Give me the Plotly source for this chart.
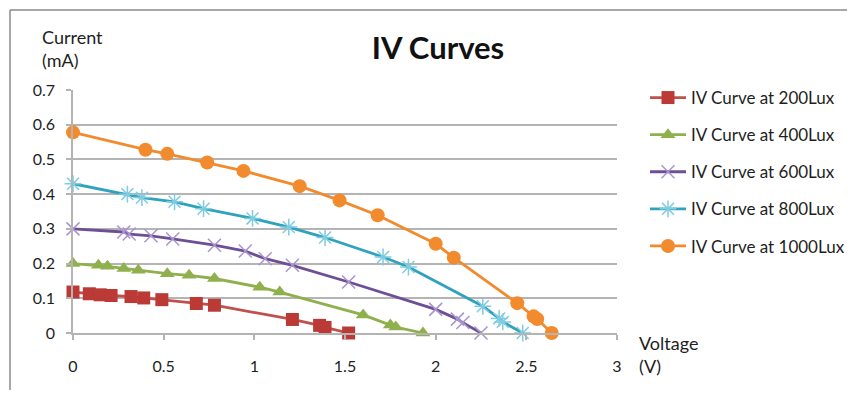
import plotly.graph_objects as go

# IV curve data (voltage in V, current in mA)
v_200 = [0, 0.09, 0.15, 0.21, 0.32, 0.39, 0.49, 0.68, 0.78, 1.21, 1.36, 1.39, 1.52]
i_200 = [0.118, 0.113, 0.110, 0.108, 0.105, 0.101, 0.096, 0.085, 0.080, 0.039, 0.022, 0.016, 0]

v_400 = [0, 0.14, 0.19, 0.28, 0.36, 0.52, 0.64, 0.78, 1.03, 1.14, 1.60, 1.75, 1.78, 1.93]
i_400 = [0.200, 0.195, 0.192, 0.186, 0.181, 0.171, 0.166, 0.157, 0.132, 0.118, 0.052, 0.023, 0.017, 0]

v_600 = [0, 0.28, 0.31, 0.43, 0.55, 0.78, 0.95, 1.06, 1.21, 1.52, 2.0, 2.12, 2.15, 2.25]
i_600 = [0.300, 0.291, 0.285, 0.280, 0.271, 0.253, 0.236, 0.214, 0.195, 0.147, 0.068, 0.040, 0.030, 0]

v_800 = [0, 0.30, 0.38, 0.56, 0.72, 0.99, 1.19, 1.39, 1.71, 1.85, 2.26, 2.35, 2.37, 2.48]
i_800 = [0.430, 0.400, 0.390, 0.378, 0.358, 0.330, 0.305, 0.275, 0.219, 0.190, 0.077, 0.042, 0.032, 0]

v_1000 = [0, 0.40, 0.52, 0.74, 0.94, 1.25, 1.47, 1.68, 2.0, 2.10, 2.45, 2.54, 2.56, 2.64]
i_1000 = [0.578, 0.528, 0.516, 0.491, 0.467, 0.423, 0.382, 0.339, 0.257, 0.217, 0.086, 0.048, 0.040, 0]

series_names = ['IV Curve at 200Lux', 'IV Curve at 400Lux', 'IV Curve at 600Lux',
                'IV Curve at 800Lux', 'IV Curve at 1000Lux']
x_tick_vals = [0, 0.5, 1, 1.5, 2, 2.5, 3]
x_tick_text = ['0', '0.5', '1', '1.5', '2', '2.5', '3']
y_tick_vals = [0, 0.1, 0.2, 0.3, 0.4, 0.5, 0.6, 0.7]
y_tick_text = ['0', '0.1', '0.2', '0.3', '0.4', '0.5', '0.6', '0.7']

FONT = 'Lato, Open Sans, sans-serif'
GRID = '#b4b4b4'
TXT = '#1e1e1e'

# the page body has an 8px margin, so the figure sits at (8, 8)
OFF = 8
W, H = 855 - OFF, 400 - OFF
# plot area edges in screen pixels
X0, X1, Y0, Y1 = 73, 617, 90, 333
L, R, T, B = X0 - OFF, W - (X1 - OFF), Y0 - OFF, H - (Y1 - OFF)
PW, PH = X1 - X0, Y1 - Y0


def px_x(px):
    return (px - X0) / PW


def px_y(py):
    return (Y1 - py) / PH


styles = [
    dict(line='#c0504d', marker=dict(symbol='square', size=13, color='#bb3a36')),
    dict(line='#8fb04c', marker=dict(symbol='triangle-up', size=13, color='#8fb04c')),
    dict(line='#6e4f96', marker=dict(symbol='x-thin', size=13, color='#b4a2d6',
                                     line=dict(width=1.5, color='#a994cf'))),
    dict(line='#2fa2bd', marker=dict(symbol='asterisk-open', size=14, color='#7fcbe0',
                                     line=dict(width=1.5, color='#7fcbe0'))),
    dict(line='#f28a2e', marker=dict(symbol='circle', size=14, color='#f28a2e')),
]

fig = go.Figure()
data = [(v_200, i_200), (v_400, i_400), (v_600, i_600), (v_800, i_800), (v_1000, i_1000)]
for k, ((v, i), name, st) in enumerate(zip(data, series_names, styles)):
    fig.add_trace(go.Scatter(
        x=v, y=i, mode='lines+markers', name=name,
        line=dict(color=st['line'], width=2.8),
        marker=st['marker'],
        cliponaxis=False,
        legendgroup=str(k),
    ))

fig.update_layout(
    width=W, height=H,
    margin=dict(l=L, r=R, t=T, b=B, autoexpand=False),
    paper_bgcolor='white', plot_bgcolor='white',
    font=dict(family=FONT, size=16, color=TXT),
    title=dict(text='<b>IV Curves</b>', x=(438 - OFF) / W, xanchor='center',
               y=1 - (48 - OFF) / H, yanchor='middle',
               font=dict(family=FONT, size=31, color='#111111')),
    showlegend=True,
    legend=dict(x=px_x(645), y=px_y(80), xanchor='left', yanchor='top',
                font=dict(family=FONT, size=17, color=TXT),
                tracegroupgap=12, itemwidth=36, bgcolor='rgba(0,0,0,0)'),
    xaxis=dict(range=[0, 3], tickvals=x_tick_vals, ticktext=x_tick_text,
               showgrid=False, zeroline=False, showline=True, linecolor=GRID, linewidth=1.5,
               ticks='outside', ticklen=5, tickcolor=GRID, tickwidth=1.5,
               ticklabelstandoff=13, fixedrange=True),
    yaxis=dict(range=[0, 0.7], tickvals=y_tick_vals, ticktext=y_tick_text,
               showgrid=True, gridcolor=GRID, gridwidth=1.5, zeroline=False,
               showline=True, linecolor=GRID, linewidth=1.5,
               ticks='outside', ticklen=5, tickcolor=GRID, tickwidth=1.5,
               ticklabelstandoff=8, fixedrange=True),
    annotations=[
        dict(text='Current<br>(mA)', xref='paper', yref='paper', x=px_x(40), y=px_y(24),
             xanchor='left', yanchor='top', align='left', showarrow=False,
             font=dict(family=FONT, size=18, color=TXT)),
        dict(text='Voltage<br>(V)', xref='paper', yref='paper', x=px_x(637), y=px_y(330),
             xanchor='left', yanchor='top', align='left', showarrow=False,
             font=dict(family=FONT, size=18, color=TXT)),
    ],
    shapes=[
        dict(type='line', xref='paper', yref='paper', x0=px_x(10), x1=px_x(860),
             y0=px_y(10), y1=px_y(10), line=dict(color='#8a8a8a', width=1.5)),
        dict(type='line', xref='paper', yref='paper', x0=px_x(10), x1=px_x(10),
             y0=px_y(10), y1=px_y(390), line=dict(color='#8a8a8a', width=1.5)),
    ],
)

fig.write_html('out.html')
